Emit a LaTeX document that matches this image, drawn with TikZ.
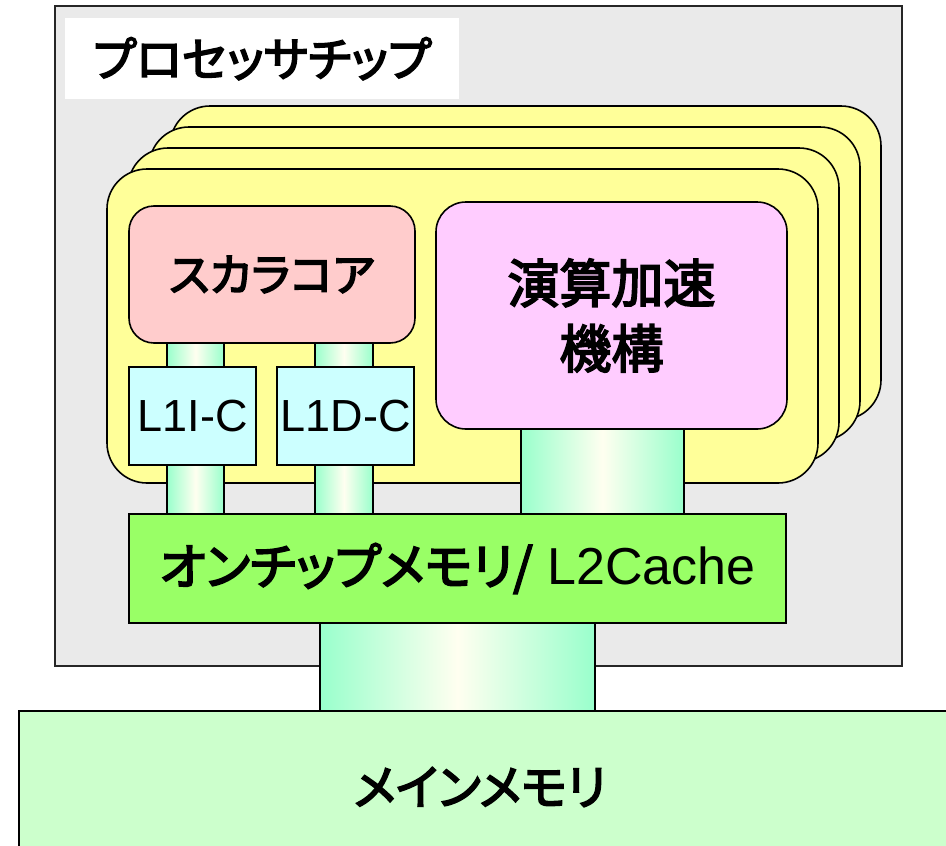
\documentclass[tikz,border=0pt]{standalone}
\usepackage{fontspec}
\setmainfont{Liberation Sans}
\newfontfamily\jp[RawFeature={+palt,embolden=3.5},FakeBold=3.5]{Noto Sans CJK JP}
\definecolor{chipgrey}{HTML}{EAEAEA}
\definecolor{coreyellow}{HTML}{FFFF99}
\definecolor{scalarpink}{HTML}{FFCCCC}
\definecolor{accelpink}{HTML}{FFCCFF}
\definecolor{lonecyan}{HTML}{CCFFFF}
\definecolor{ltwogreen}{HTML}{99FF66}
\definecolor{mainmem}{HTML}{CCFFCC}
\definecolor{tubeedge}{HTML}{99FFCC}
\definecolor{tubemid}{HTML}{FFFFF0}
\tikzset{
  blk/.style={draw=black, line width=1.6pt, rectangle, inner sep=0pt, outer sep=0pt, anchor=north west, align=center},
  core/.style={blk, fill=coreyellow, rounded corners=40pt, minimum width=711pt, minimum height=314pt},
  tube/.style={blk, left color=tubeedge, right color=tubeedge, middle color=tubemid},
  jpt/.style={font=\jp\fontsize{#1}{#1}\selectfont},
}
\begin{document}
\begin{tikzpicture}[x=1pt,y=-1pt]
\clip (0,0) rectangle (946,846);
\fill[white] (0,0) rectangle (946,846);
% processor chip
\node[blk, draw=black!85, fill=chipgrey, minimum width=847pt, minimum height=660pt] (chip) at (55,6) {};
\node[rectangle, fill=white, inner sep=0pt, anchor=north west, minimum width=394pt, minimum height=81pt, jpt=47] (chiplabel) at (65,18) {プロセッサチップ};
% stacked cores
\node[core] (core3) at (170,106) {};
\node[core] (core2) at (149,127) {};
\node[core] (core1) at (128,148) {};
\node[core] (core0) at (107,169) {};
% scalar core and accelerator
\node[blk, fill=scalarpink, rounded corners=25pt, minimum width=286pt, minimum height=137pt, jpt=45] (scalar) at (129,206) {スカラコア};
\node[blk, fill=accelpink, rounded corners=30pt, minimum width=351pt, minimum height=227pt, jpt=52] (accel) at (436,202) {\strut 演算加速\\[5pt]機構};
% tubes
\node[tube, minimum width=57pt, minimum height=24pt] (t1) at (167,343) {};
\node[tube, minimum width=58pt, minimum height=24pt] (t2) at (315,343) {};
\node[tube, minimum width=57pt, minimum height=49pt] (t3) at (167,465) {};
\node[tube, minimum width=58pt, minimum height=49pt] (t4) at (315,465) {};
\node[tube, minimum width=163pt, minimum height=85pt] (t5) at (521,429) {};
% L1 caches
\node[blk, fill=lonecyan, minimum width=127pt, minimum height=98pt, font=\fontsize{45}{45}\selectfont] (l1i) at (129,367) {L1I-C};
\node[blk, fill=lonecyan, minimum width=137pt, minimum height=98pt, font=\fontsize{45}{45}\selectfont] (l1d) at (277,367) {L1D-C};
% L2
\node[blk, fill=ltwogreen, minimum width=657pt, minimum height=109pt] (l2) at (129,514) {{\jp\fontsize{50}{50}\selectfont オンチップメモリ/}{\fontsize{52}{52}\selectfont\ L2Cache}};
% main memory link and main memory
\node[tube, minimum width=275pt, minimum height=88pt] (t6) at (320,623) {};
\node[blk, fill=mainmem, minimum width=960pt, minimum height=160pt] (mainm) at (19,711) {};
\node[jpt=48] (mainlabel) at (480,787) {メインメモリ};
\end{tikzpicture}
\end{document}
